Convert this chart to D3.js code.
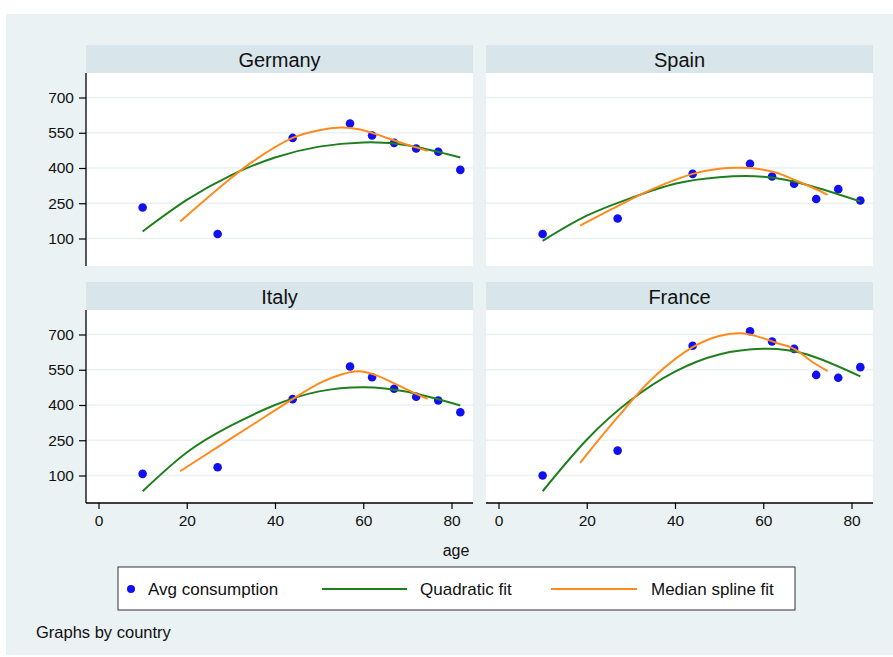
<!DOCTYPE html>
<html>
<head>
<meta charset="utf-8">
<script src="https://cdnjs.cloudflare.com/ajax/libs/d3/7.8.5/d3.min.js"></script>
<style>
  body { margin: 0; background: #fff; }
  svg { display: block; }
  text { font-family: "Liberation Sans", Arial, sans-serif; fill: #111; }
</style>
</head>
<body>
<svg id="chart"></svg>
<script>
const width = 893
const height = 657

const countries = ['Germany', 'Spain', 'Italy', 'France']

// observed points
const ages = [10, 27, 44, 57, 62, 67, 72, 77, 82]
const germanyAvg = [232, 119, 528, 589, 538, 507, 483, 469, 392]
const spainAvg = [119, 185, 375, 418, 364, 333, 268, 310, 262]
const italyAvg = [107, 135, 425, 564, 518, 469, 435, 419, 369]
const franceAvg = [100, 206, 652, 714, 670, 639, 528, 516, 561]

// quadratic fit
const quadAges = [10, 20, 30, 40, 50, 60, 70, 82]
const germanyQuad = [130, 264, 369, 445, 491, 509, 497, 445]
const spainQuad = [90, 197, 272, 333, 361, 363, 328, 258]
const italyQuad = [33, 198, 312, 400, 458, 476, 456, 398]
const franceQuad = [33, 252, 421, 542, 615, 639, 615, 522]

// median spline
const splineAges = [18.5, 27, 35, 44, 50, 55, 59, 63, 67, 71, 74.6]
const germanySpline = [172, 310, 428, 528, 561, 572, 565, 543, 517, 493, 473]
const spainSpline = [155, 238, 311, 375, 397, 401, 396, 380, 350, 318, 286]
const italySpline = [118, 221, 317, 425, 492, 530, 544, 526, 492, 456, 426]
const franceSpline = [154, 348, 515, 646, 694, 705, 690, 664, 639, 585, 544]

const xTicks = [0, 20, 40, 60, 80]
const yTicks = [100, 250, 400, 550, 700]

const avgByCountry = [germanyAvg, spainAvg, italyAvg, franceAvg]
const quadByCountry = [germanyQuad, spainQuad, italyQuad, franceQuad]
const splineByCountry = [germanySpline, spainSpline, italySpline, franceSpline]

const colDot = '#1010f0'
const colQuad = '#1f7f1f'
const colSpline = '#ff8a1c'
const bgOuter = '#eaf2f3'
const bgStrip = '#d8e5ea'

const colX = [86, 486]
const rowY = [73, 310]
const plotW = 387
const plotH = 193
const stripH = 28

const svg = d3.select('#chart').attr('width', width).attr('height', height)

svg.append('rect').attr('x', 6).attr('y', 14).attr('width', width - 6).attr('height', 641)
  .attr('fill', bgOuter)

countries.forEach((country, i) => {
  const col = i % 2
  const row = Math.floor(i / 2)
  const x0 = colX[col]
  const y0 = rowY[row]

  const x = d3.scaleLinear().domain([0, 80]).range([x0 + 12.5, x0 + 365.5])
  const y = d3.scaleLinear().domain([100, 700]).range([y0 + 165.5, y0 + 24.5])

  const g = svg.append('g')

  // title strip
  g.append('rect').attr('x', x0).attr('y', y0 - stripH).attr('width', plotW).attr('height', stripH)
    .attr('fill', bgStrip)
  g.append('text').attr('x', x0 + plotW / 2).attr('y', y0 - stripH / 2 + 1)
    .attr('text-anchor', 'middle').attr('dominant-baseline', 'central')
    .style('font-size', '20px').text(country)

  // plot area
  g.append('rect').attr('x', x0).attr('y', y0).attr('width', plotW).attr('height', plotH)
    .attr('fill', '#fff')

  g.selectAll('line.grid').data(yTicks).enter().append('line')
    .attr('class', 'grid')
    .attr('x1', x0).attr('x2', x0 + plotW)
    .attr('y1', d => y(d)).attr('y2', d => y(d))
    .attr('stroke', bgOuter).attr('stroke-width', 1.5)

  if (col === 0) {
    const yAxis = d3.axisLeft(y).tickValues(yTicks).tickSize(7).tickPadding(5)
    const ya = g.append('g').attr('transform', `translate(${x0},0)`).call(yAxis)
    ya.select('.domain').remove()
    ya.append('line').attr('x1', 0).attr('x2', 0).attr('y1', y0).attr('y2', y0 + plotH)
      .attr('stroke', '#000').attr('stroke-width', 1.3)
    ya.selectAll('.tick line').attr('stroke', '#000').attr('stroke-width', 1.2)
    ya.selectAll('.tick text').style('font-size', '15.5px').attr('fill', '#111')
      .style('font-family', '"Liberation Sans", Arial, sans-serif')
  }

  if (row === 1) {
    const xAxis = d3.axisBottom(x).tickValues(xTicks).tickSize(6).tickPadding(6)
    const xa = g.append('g').attr('transform', `translate(0,${y0 + plotH})`).call(xAxis)
    xa.select('.domain').remove()
    xa.append('line').attr('x1', x0).attr('x2', x0 + plotW).attr('y1', 0).attr('y2', 0)
      .attr('stroke', '#000').attr('stroke-width', 1.3)
    xa.selectAll('.tick line').attr('stroke', '#000').attr('stroke-width', 1.2)
    xa.selectAll('.tick text').style('font-size', '15.5px').attr('fill', '#111')
      .style('font-family', '"Liberation Sans", Arial, sans-serif')
  }

  const quad = quadAges.map((a, k) => [a, quadByCountry[i][k]])
  const spline = splineAges.map((a, k) => [a, splineByCountry[i][k]])
  const dots = ages.map((a, k) => [a, avgByCountry[i][k]])

  g.selectAll('circle').data(dots).enter().append('circle')
    .attr('cx', d => x(d[0])).attr('cy', d => y(d[1])).attr('r', 4.3)
    .attr('fill', colDot)

  const line = d3.line().x(d => x(d[0])).y(d => y(d[1]))
  g.append('path').datum(quad).attr('d', line.curve(d3.curveNatural))
    .attr('fill', 'none').attr('stroke', colQuad).attr('stroke-width', 2)
  g.append('path').datum(spline).attr('d', line.curve(d3.curveCatmullRom.alpha(0.5)))
    .attr('fill', 'none').attr('stroke', colSpline).attr('stroke-width', 2)
})

// x axis title
svg.append('text').attr('x', 456).attr('y', 556).attr('text-anchor', 'middle')
  .style('font-size', '16px').text('age')

// legend
const lg = svg.append('g')
lg.append('rect').attr('x', 118).attr('y', 567).attr('width', 677).attr('height', 43)
  .attr('fill', '#fff').attr('stroke', '#333').attr('stroke-width', 1)
lg.append('circle').attr('cx', 131).attr('cy', 589).attr('r', 4).attr('fill', colDot)
lg.append('line').attr('x1', 322).attr('x2', 407).attr('y1', 589).attr('y2', 589)
  .attr('stroke', colQuad).attr('stroke-width', 2)
lg.append('line').attr('x1', 551).attr('x2', 637).attr('y1', 589).attr('y2', 589)
  .attr('stroke', colSpline).attr('stroke-width', 2)
const legendLabels = [['Avg consumption', 148], ['Quadratic fit', 420], ['Median spline fit', 651]]
lg.selectAll('text').data(legendLabels).enter().append('text')
  .attr('x', d => d[1]).attr('y', 589).attr('dominant-baseline', 'central')
  .style('font-size', '17px').text(d => d[0])

svg.append('text').attr('x', 36).attr('y', 638).style('font-size', '16.5px').text('Graphs by country')
</script>
</body>
</html>
